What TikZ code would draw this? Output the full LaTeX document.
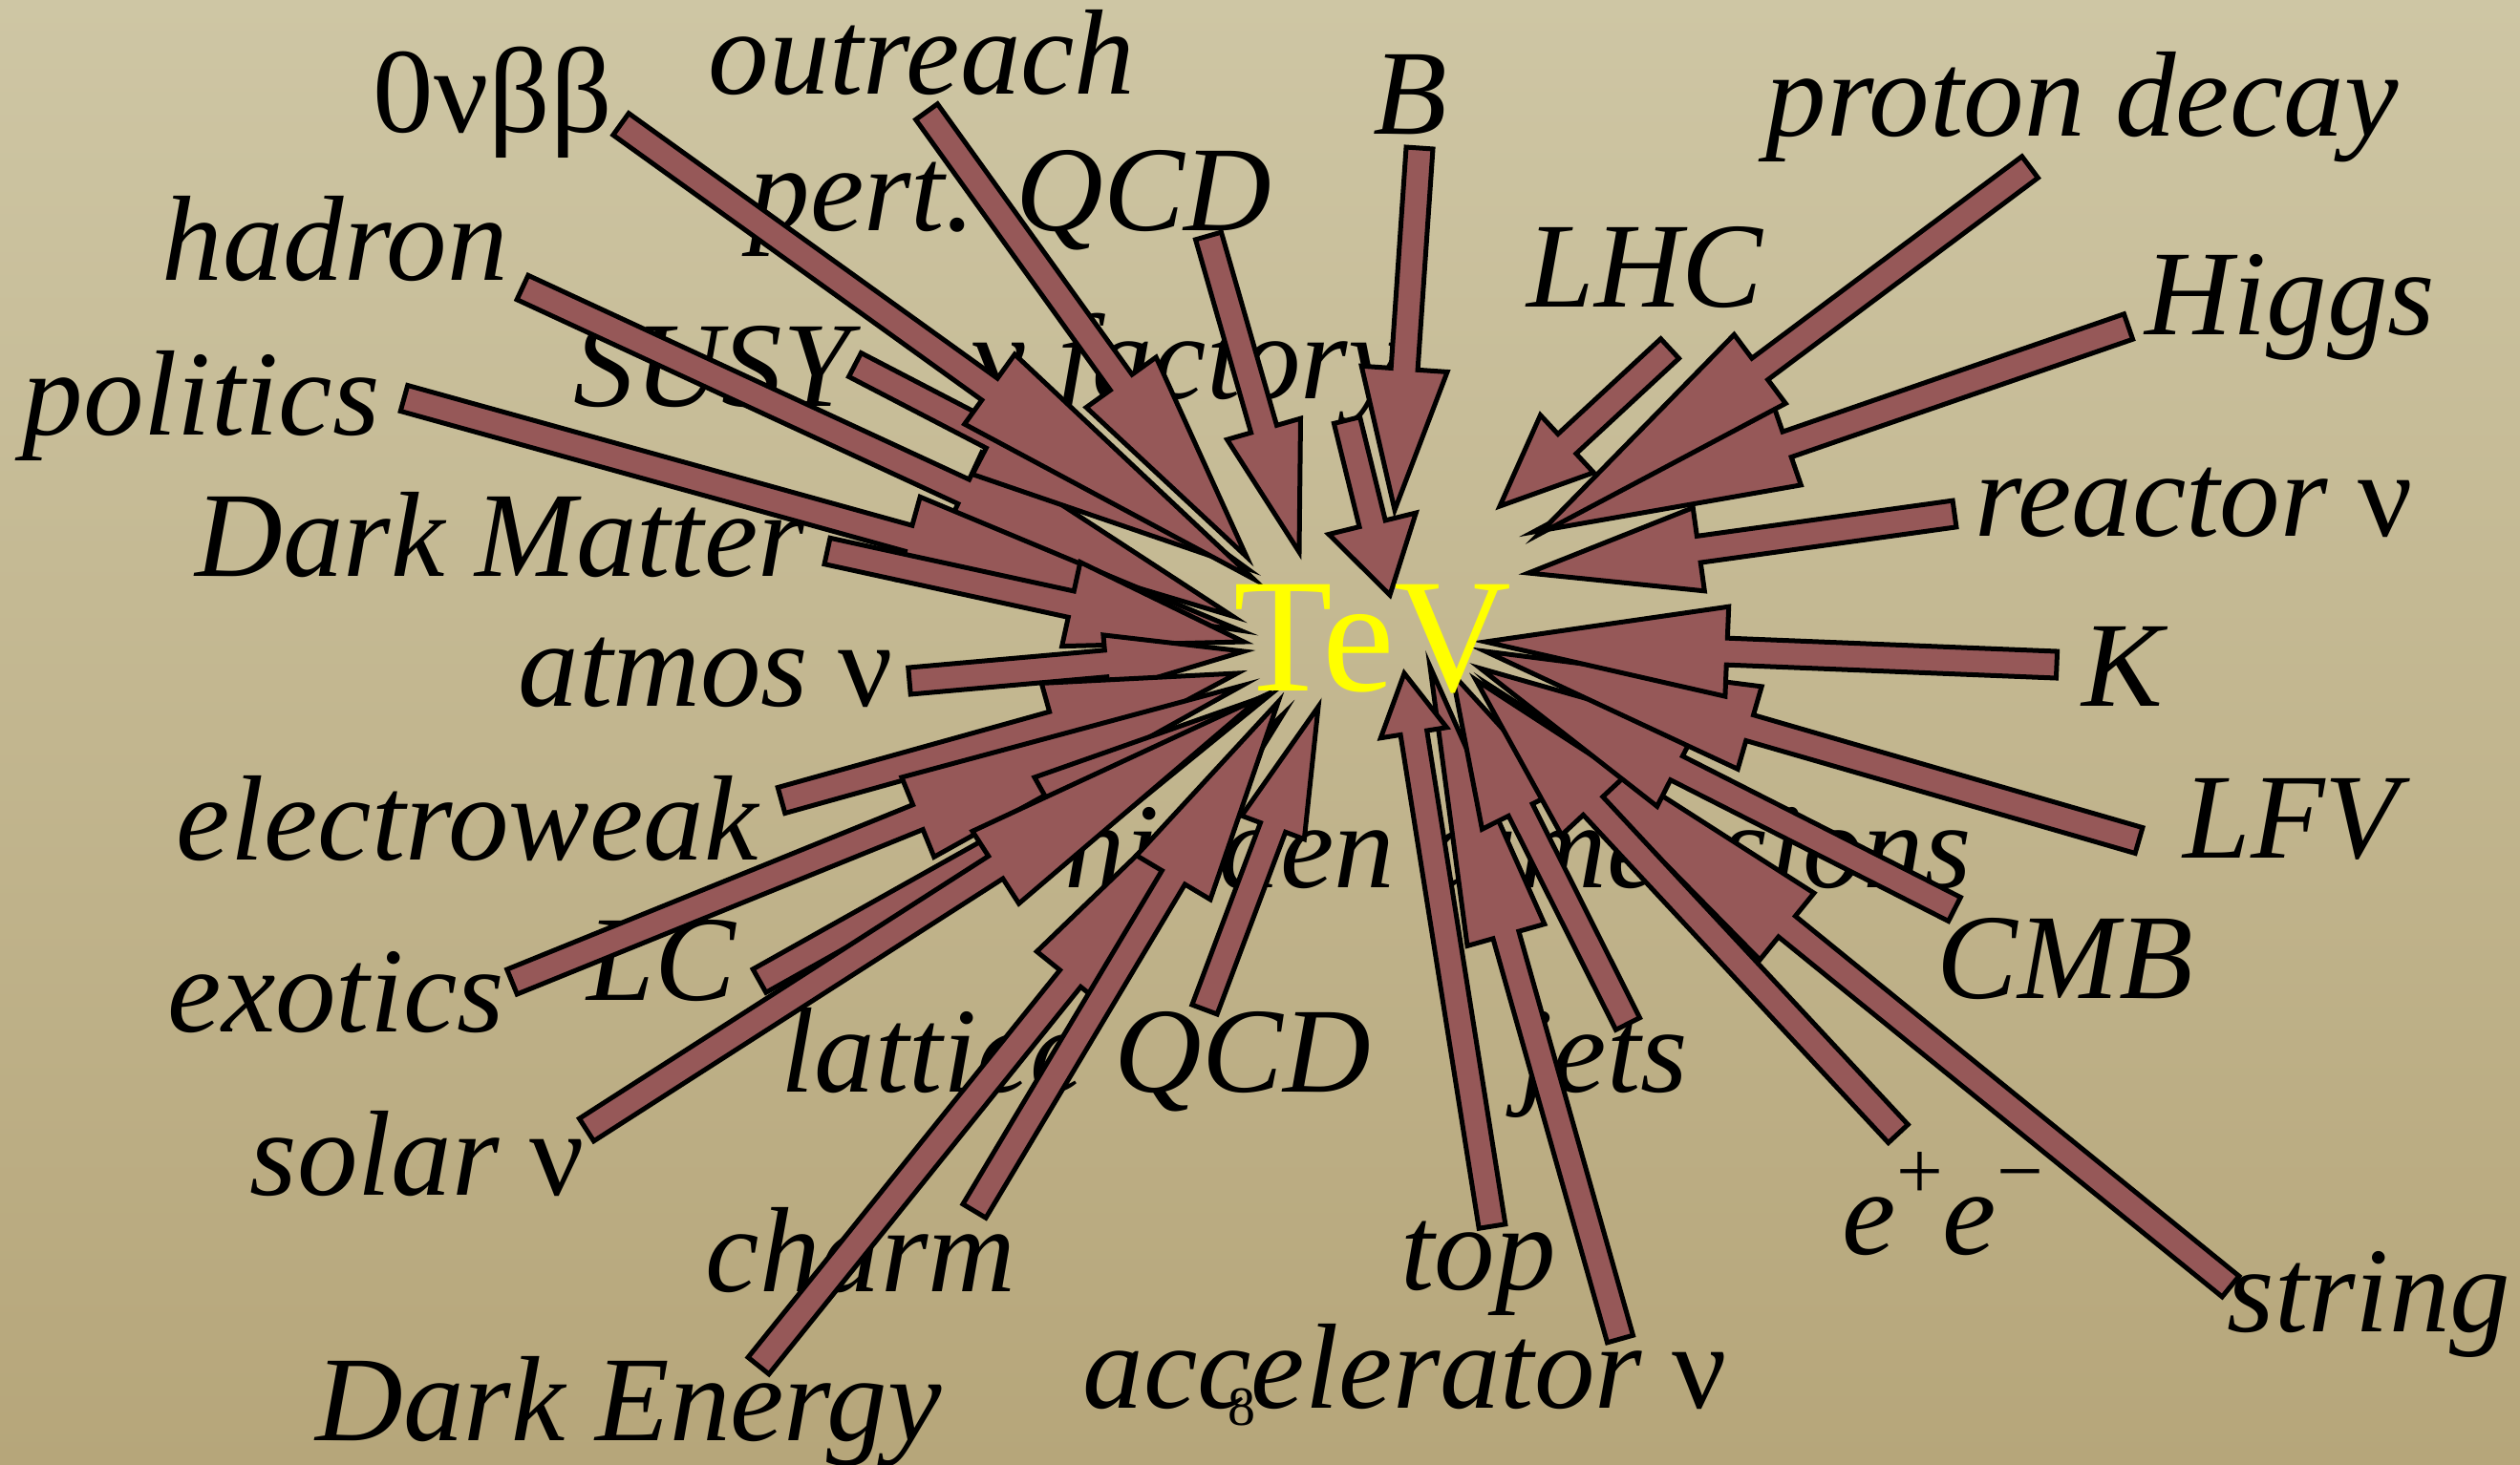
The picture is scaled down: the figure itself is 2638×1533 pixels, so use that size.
\documentclass[tikz,border=0pt]{standalone}
\usepackage{fontspec}
\setmainfont{Liberation Serif}
\usetikzlibrary{calc}
\definecolor{arrowfill}{RGB}{150,88,88}
\definecolor{bgtop}{RGB}{206,198,164}
\definecolor{bgbot}{RGB}{182,166,122}
\definecolor{tevyellow}{RGB}{255,255,0}
\tikzset{
  arrowbody/.style={fill=arrowfill,draw=black,line width=1.5pt,line join=miter,miter limit=25},
  lbl/.style={anchor=base west,inner sep=0pt,font=\fontsize{38.1}{40}\selectfont\itshape},
}
% tail, tip, head length, head half width, shaft half width (pixel units)
\newcommand\tevarrow[5]{%
  \coordinate (hb) at ($(#2)!#3*0.3pt!(#1)$);
  \draw[arrowbody] ($(#1)!#5*0.3pt!90:(#2)$) -- ($(hb)!#5*0.3pt!90:(#2)$) --
    ($(hb)!#4*0.3pt!90:(#2)$) -- (#2) -- ($(hb)!#4*0.3pt!-90:(#2)$) --
    ($(hb)!#5*0.3pt!-90:(#2)$) -- ($(#1)!#5*0.3pt!-90:(#2)$) -- cycle;
}
\newcommand\supsign[1]{\raisebox{0.45em}{\fontsize{26}{26}\selectfont\upshape #1}}
\begin{document}
\begin{tikzpicture}[x=0.3pt,y=-0.3pt]
\useasboundingbox (0,0) rectangle (2638,1533);
\shade[top color=bgtop,bottom color=bgbot] (0,0) rectangle (2638,1533);
% labels
\node[lbl] (l-zero) at (390,138) {\upshape 0νββ};
\node[lbl] (l-outreach) at (741,98) {outreach};
\node[lbl] (l-b) at (1437,140) {B};
\node[lbl] (l-proton) at (1848,142) {proton decay};
\node[lbl] (l-pqcd) at (784,241) {pert. QCD};
\node[lbl] (l-hadron) at (169,293) {hadron};
\node[lbl] (l-lhc) at (1598,321) {LHC};
\node[lbl] (l-higgs) at (2245,350) {Higgs};
\node[lbl] (l-susy) at (600,425) {SUSY};
\node[lbl] (l-nufac) at (1018,417) {{\upshape ν} factory};
\node[lbl] (l-politics) at (23,455) {politics};
\node[lbl] (l-reactor) at (2067,561) {reactor {\upshape ν}};
\node[lbl] (l-dm) at (204,603) {Dark Matter};
\node[lbl] (l-atmos) at (542,739) {atmos {\upshape ν}};
\node[lbl] (l-k) at (2179,739) {K};
\node[lbl] (l-ew) at (184,900) {electroweak};
\node[lbl] (l-lfv) at (2285,898) {LFV};
\node[lbl] (l-hidden) at (1114,929) {hidden dimensions};
\node[lbl] (l-exotics) at (175,1080) {exotics};
\node[lbl] (l-lc) at (614,1047) {LC};
\node[lbl] (l-cmb) at (2027,1045) {CMB};
\node[lbl] (l-lattice) at (817,1143) {lattice QCD};
\node[lbl] (l-jets) at (1590,1143) {jets};
\node[lbl] (l-solar) at (261,1251) {solar {\upshape ν}};
\node[lbl] (l-ee) at (1928,1313) {e\supsign{+}e\supsign{−}};
\node[lbl] (l-top) at (1466,1350) {top};
\node[lbl] (l-charm) at (738,1352) {charm};
\node[lbl] (l-string) at (2331,1394) {string};
\node[lbl] (l-acc) at (1133,1474) {accelerator {\upshape ν}};
\node[lbl] (l-de) at (330,1508) {Dark Energy};
\node[anchor=base west,inner sep=0pt,font=\fontsize{17.4}{18}\selectfont] (pagenum) at (1285,1492) {8};
% tails and tips
\coordinate (t-zero) at (650,130);     \coordinate (p-zero) at (1312,606);
\coordinate (t-outreach) at (970,117); \coordinate (p-outreach) at (1305,583);
\coordinate (t-pqcd) at (1265,247);    \coordinate (p-pqcd) at (1360,578);
\coordinate (t-b) at (1486,155);       \coordinate (p-b) at (1460,534);
\coordinate (t-nufac) at (1410,440);   \coordinate (p-nufac) at (1455,623);
\coordinate (t-hadron) at (547,301);   \coordinate (p-hadron) at (1290,645);
\coordinate (t-susy) at (895,382);     \coordinate (p-susy) at (1305,595);
\coordinate (t-politics) at (423,417); \coordinate (p-politics) at (1298,660);
\coordinate (t-dm) at (866,577);       \coordinate (p-dm) at (1302,672);
\coordinate (t-atmos) at (952,713);    \coordinate (p-atmos) at (1302,682);
\coordinate (t-ew) at (818,838);       \coordinate (p-ew) at (1295,705);
\coordinate (t-exotics) at (536,1028); \coordinate (p-exotics) at (1300,718);
\coordinate (t-lc) at (795,1027);      \coordinate (p-lc) at (1330,727);
\coordinate (t-solar) at (614,1183);   \coordinate (p-solar) at (1320,730);
\coordinate (t-charm) at (1020,1268);  \coordinate (p-charm) at (1338,735);
\coordinate (t-de) at (794,1430);      \coordinate (p-de) at (1343,748);
\coordinate (t-lattice) at (1261,1057);\coordinate (p-lattice) at (1380,740);
\coordinate (t-top) at (1562,1284);    \coordinate (p-top) at (1470,705);
\coordinate (t-acc) at (1696,1402);    \coordinate (p-acc) at (1497,698);
\coordinate (t-jets) at (1704,1072);   \coordinate (p-jets) at (1520,705);
\coordinate (t-ee) at (1987,1187);     \coordinate (p-ee) at (1545,712);
\coordinate (t-string) at (2335,1347); \coordinate (p-string) at (1560,718);
\coordinate (t-cmb) at (2046,952);     \coordinate (p-cmb) at (1550,700);
\coordinate (t-lfv) at (2239,880);     \coordinate (p-lfv) at (1555,682);
\coordinate (t-k) at (2153,696);       \coordinate (p-k) at (1555,672);
\coordinate (t-reactor) at (2046,538); \coordinate (p-reactor) at (1600,600);
\coordinate (t-higgs) at (2228,342);   \coordinate (p-higgs) at (1605,557);
\coordinate (t-proton) at (2125,175);  \coordinate (p-proton) at (1610,560);
\coordinate (t-lhc) at (1748,365);     \coordinate (p-lhc) at (1570,530);
% arrows
\tevarrow{t-hadron}{p-hadron}{310}{45}{14}
\tevarrow{t-politics}{p-politics}{360}{45}{14}
\tevarrow{t-susy}{p-susy}{300}{45}{14}
\tevarrow{t-zero}{p-zero}{340}{45}{14}
\tevarrow{t-outreach}{p-outreach}{225}{45}{14}
\tevarrow{t-pqcd}{p-pqcd}{134}{40}{14}
\tevarrow{t-b}{p-b}{148}{45}{14}
\tevarrow{t-nufac}{p-nufac}{77}{47}{14}
\tevarrow{t-dm}{p-dm}{185}{45}{14}
\tevarrow{t-atmos}{p-atmos}{145}{30}{14}
\tevarrow{t-ew}{p-ew}{200}{45}{14}
\tevarrow{t-exotics}{p-exotics}{366}{45}{14}
\tevarrow{t-lc}{p-lc}{258}{45}{14}
\tevarrow{t-solar}{p-solar}{330}{45}{14}
\tevarrow{t-de}{p-de}{355}{45}{14}
\tevarrow{t-charm}{p-charm}{214}{45}{14}
\tevarrow{t-lattice}{p-lattice}{135}{35}{14}
\tevarrow{t-acc}{p-acc}{292}{42}{14}
\tevarrow{t-top}{p-top}{63}{35}{14}
\tevarrow{t-jets}{p-jets}{160}{45}{14}
\tevarrow{t-string}{p-string}{400}{45}{14}
\tevarrow{t-ee}{p-ee}{180}{45}{14}
\tevarrow{t-cmb}{p-cmb}{230}{45}{14}
\tevarrow{t-lfv}{p-lfv}{288}{45}{14}
\tevarrow{t-k}{p-k}{253}{47}{14}
\tevarrow{t-reactor}{p-reactor}{180}{44}{14}
\tevarrow{t-higgs}{p-higgs}{281}{45}{14}
\tevarrow{t-proton}{p-proton}{290}{45}{14}
\tevarrow{t-lhc}{p-lhc}{96}{41}{14}
% centre label
\node[inner sep=0pt,anchor=base,text=tevyellow,font=\fontsize{51}{52}\selectfont] (tev) at (1437,723) {TeV};
\end{tikzpicture}
\end{document}
